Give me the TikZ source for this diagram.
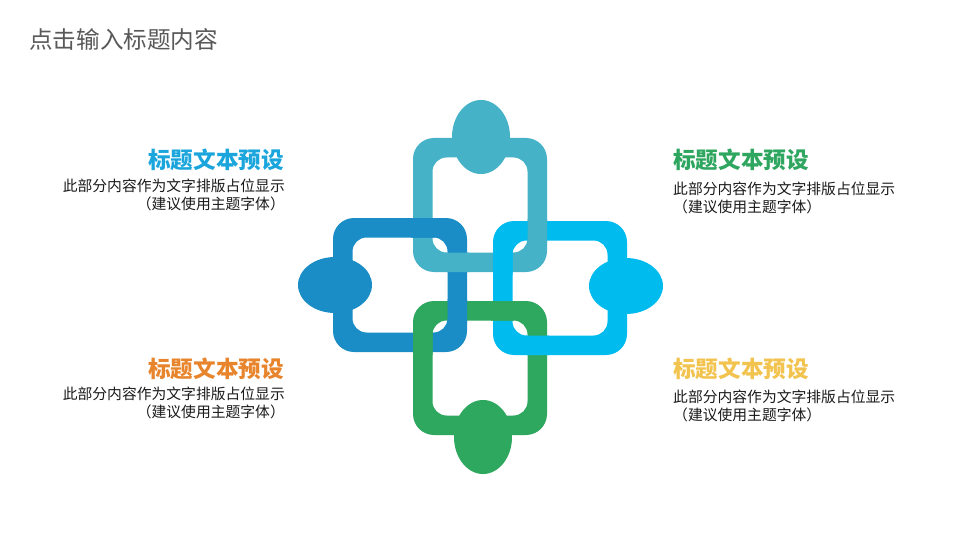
\documentclass[tikz,border=0pt]{standalone}
\usepackage{fontspec}
\newfontfamily\cjk{Noto Sans CJK SC}
\definecolor{cteal}{HTML}{45B2C8}
\definecolor{cblue}{HTML}{1A8DC7}
\definecolor{ccyan}{HTML}{00BBEE}
\definecolor{cgreen}{HTML}{2EA75F}
\definecolor{hblue}{HTML}{1AA6DC}
\definecolor{hgreen}{HTML}{2EA65F}
\definecolor{horange}{HTML}{E8852C}
\definecolor{hyellow}{HTML}{F2C34E}
\definecolor{titlegray}{HTML}{595959}
\definecolor{bodytext}{HTML}{1A1A1A}
\newcommand\linkring[3]{%
  \fill[#3, even odd rule, rounded corners=21pt]
    ({#1-67},{#2-67}) rectangle ({#1+67},{#2+67})
    [rounded corners=14pt]
    ({#1-47.5},{#2-47.5}) rectangle ({#1+47.5},{#2+47.5});}
\newcommand\overat[7]{%
  \begin{scope}
    \clip (#1,#2) rectangle (#3,#4);
    \linkring{#5}{#6}{#7}
  \end{scope}}
\tikzset{
  title/.style={font=\cjk\fontsize{23.6}{27}\selectfont, text=titlegray, inner sep=0pt, anchor=west},
  head/.style={font=\cjk\bfseries\fontsize{22.6}{26}\selectfont, inner sep=0pt},
  body/.style={font=\cjk\fontsize{14.8}{17}\selectfont, text=bodytext, inner sep=0pt}
}
\begin{document}
\begin{tikzpicture}[x=1pt,y=-1pt]
\useasboundingbox (0,0) rectangle (960,540);
\fill[white] (0,0) rectangle (960,540);

% rings
\linkring{480}{205}{cteal}
\linkring{400}{285}{cblue}
\linkring{560}{288}{ccyan}
\linkring{480}{368}{cgreen}

% ellipses
\fill[cteal] (481,137) ellipse [x radius=29pt, y radius=37pt];
\fill[cblue] (335,285) ellipse [x radius=37pt, y radius=28pt];
\fill[ccyan] (626,286) ellipse [x radius=37pt, y radius=28pt];
\fill[cgreen] (483,437) ellipse [x radius=29pt, y radius=37pt];

% interlocking crossings
\overat{411}{216}{435}{240}{400}{285}{cblue}
\overat{446}{251}{469}{274}{480}{205}{cteal}
\overat{526}{219}{549}{242}{480}{205}{cteal}
\overat{491}{251}{514}{274}{560}{288}{ccyan}
\overat{446}{299}{469}{322}{400}{285}{cblue}
\overat{411}{331}{434}{354}{480}{368}{cgreen}
\overat{491}{299}{514}{322}{480}{368}{cgreen}
\overat{526}{334}{549}{357}{560}{288}{ccyan}

% title
\node[title] (title) at (29,39) {点击输入标题内容};

% top-left
\node[head, text=hblue, anchor=east] (h1) at (284,160) {标题文本预设};
\node[body, anchor=east] (b1a) at (285,186) {此部分内容作为文字排版占位显示};
\node[body, anchor=east] (b1b) at (285,204) {（建议使用主题字体）};

% top-right
\node[head, text=hgreen, anchor=west] (h2) at (673,160) {标题文本预设};
\node[body, anchor=west] (b2a) at (673,189) {此部分内容作为文字排版占位显示};
\node[body, anchor=west] (b2b) at (673,207) {（建议使用主题字体）};

% bottom-left
\node[head, text=horange, anchor=east] (h3) at (284,369) {标题文本预设};
\node[body, anchor=east] (b3a) at (285,394) {此部分内容作为文字排版占位显示};
\node[body, anchor=east] (b3b) at (285,412) {（建议使用主题字体）};

% bottom-right
\node[head, text=hyellow, anchor=west] (h4) at (673,369) {标题文本预设};
\node[body, anchor=west] (b4a) at (673,397) {此部分内容作为文字排版占位显示};
\node[body, anchor=west] (b4b) at (673,415) {（建议使用主题字体）};
\end{tikzpicture}
\end{document}
